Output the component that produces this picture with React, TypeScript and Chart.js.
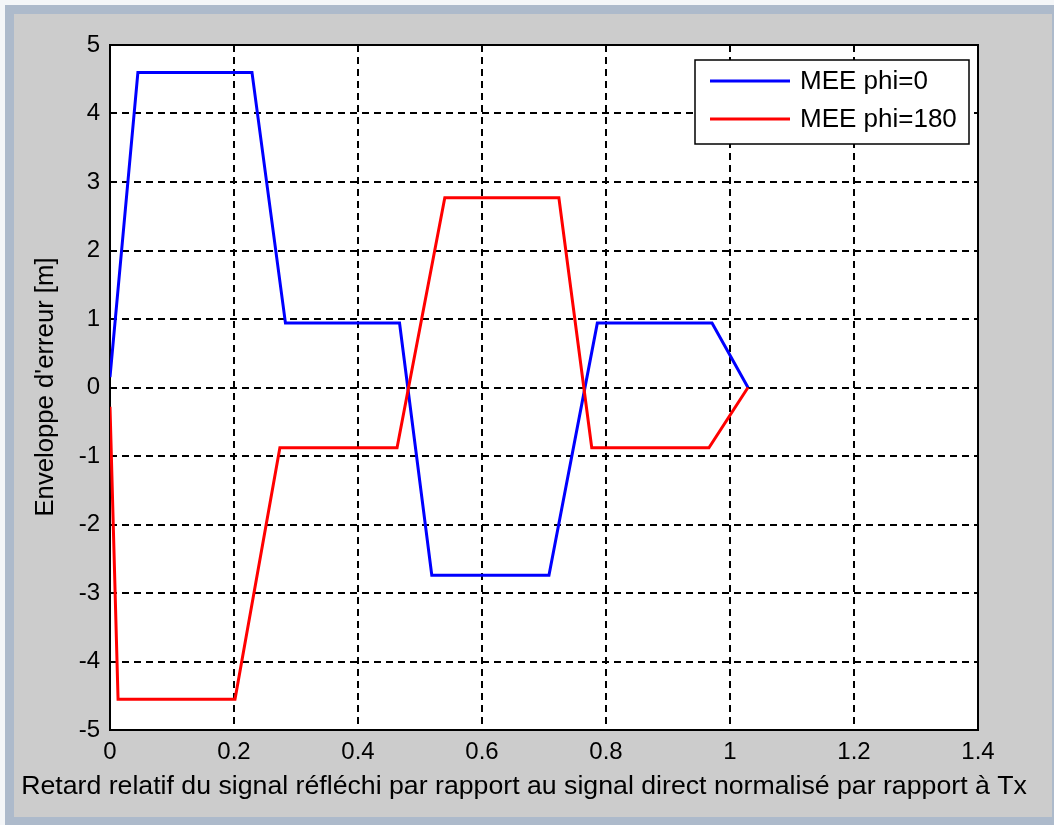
import React, { useEffect, useRef } from "react";
import { Chart, registerables } from "chart.js";

Chart.register(...registerables);

// Axis ticks
const xTicks = [0, 0.2, 0.4, 0.6, 0.8, 1, 1.2, 1.4];
const yTicks = [-5, -4, -3, -2, -1, 0, 1, 2, 3, 4, 5];

// Multipath error envelope, phi = 0
const phi0X = [0, 0.045, 0.229, 0.283, 0.467, 0.519, 0.708, 0.786, 0.971, 1.029];
const phi0Y = [0.15, 4.6, 4.6, 0.94, 0.94, -2.74, -2.74, 0.94, 0.94, 0];

// Multipath error envelope, phi = 180
const phi180X = [0, 0.013, 0.2016, 0.274, 0.463, 0.54, 0.724, 0.777, 0.966, 1.029];
const phi180Y = [-0.28, -4.55, -4.55, -0.88, -0.88, 2.77, 2.77, -0.88, -0.88, 0];

const seriesLabels = ["MEE phi=0", "MEE phi=180"];
const seriesColors = ["#0000ff", "#ff0000"];
const xTitle =
  "Retard relatif du signal réfléchi par rapport au signal direct normalisé par rapport à Tx";
const yTitle = "Enveloppe d'erreur [m]";

const W = 1054;
const H = 825;
const FONT = "'Liberation Sans', Arial, Helvetica, sans-serif";

const toPoints = (xs: number[], ys: number[]) => xs.map((x, i) => ({ x, y: ys[i] }));

// Window frame, grey figure panel and white axes background
const framePlugin = {
  id: "frame",
  beforeDraw(chart: any) {
    const { ctx, chartArea } = chart;
    ctx.save();
    ctx.fillStyle = "#f4f6f8";
    ctx.fillRect(0, 0, W, H);
    ctx.fillStyle = "#adbacb";
    ctx.fillRect(5, 5, W - 5, H - 5);
    ctx.fillStyle = "#cccccc";
    ctx.fillRect(14, 14, 1052 - 14, 817 - 14);
    ctx.fillStyle = "#ffffff";
    ctx.fillRect(chartArea.left, chartArea.top, chartArea.right - chartArea.left, chartArea.bottom - chartArea.top);
    ctx.restore();
  },
};

// Axes box drawn over the grid, under the curves
const boxPlugin = {
  id: "axesBox",
  beforeDatasetsDraw(chart: any) {
    const { ctx, chartArea } = chart;
    ctx.save();
    ctx.strokeStyle = "#000";
    ctx.lineWidth = 2;
    ctx.strokeRect(chartArea.left, chartArea.top, chartArea.right - chartArea.left, chartArea.bottom - chartArea.top);
    ctx.restore();
  },
};

// Legend box in the upper right corner and axis titles
const annotatePlugin = {
  id: "annotate",
  afterDraw(chart: any) {
    const { ctx } = chart;
    ctx.save();
    // legend
    const bx = 695, by = 60, bw = 274, bh = 84;
    ctx.fillStyle = "#fff";
    ctx.fillRect(bx, by, bw, bh);
    ctx.strokeStyle = "#000";
    ctx.lineWidth = 1.5;
    ctx.strokeRect(bx, by, bw, bh);
    const rows = [81, 119];
    seriesLabels.forEach((label, i) => {
      ctx.strokeStyle = seriesColors[i];
      ctx.lineWidth = 3;
      ctx.beginPath();
      ctx.moveTo(710, rows[i]);
      ctx.lineTo(790, rows[i]);
      ctx.stroke();
      ctx.fillStyle = "#000";
      ctx.font = `26px ${FONT}`;
      ctx.textAlign = "left";
      ctx.textBaseline = "middle";
      ctx.fillText(label, 800, rows[i] + 1);
    });
    // x title
    ctx.fillStyle = "#000";
    ctx.font = `26.7px ${FONT}`;
    ctx.textAlign = "center";
    ctx.textBaseline = "middle";
    ctx.fillText(xTitle, 524, 787);
    // y title
    ctx.font = `25.7px ${FONT}`;
    ctx.translate(46, 387);
    ctx.rotate(-Math.PI / 2);
    ctx.fillText(yTitle, 0, 0);
    ctx.restore();
  },
};

export default function App() {
  const canvasRef = useRef<HTMLCanvasElement | null>(null);

  useEffect(() => {
    document.body.style.margin = "0";
    const canvas = canvasRef.current;
    if (!canvas) return;

    const chart = new Chart(canvas, {
      type: "line",
      data: {
        datasets: [
          {
            label: seriesLabels[0],
            data: toPoints(phi0X, phi0Y),
            borderColor: seriesColors[0],
            borderWidth: 3,
            pointRadius: 0,
            tension: 0,
            fill: false,
            order: 1,
          },
          {
            label: seriesLabels[1],
            data: toPoints(phi180X, phi180Y),
            borderColor: seriesColors[1],
            borderWidth: 3,
            pointRadius: 0,
            tension: 0,
            fill: false,
            order: 0,
          },
        ],
      },
      options: {
        responsive: false,
        animation: false,
        devicePixelRatio: 1,
        layout: { padding: { left: 0, top: 45, right: 76, bottom: 0 } },
        plugins: {
          legend: { display: false },
          tooltip: { enabled: false },
          title: { display: false },
        },
        scales: {
          x: {
            type: "linear",
            min: 0,
            max: 1.4,
            afterBuildTicks: (scale: any) => {
              scale.ticks = xTicks.map((v) => ({ value: v }));
            },
            afterFit: (scale: any) => {
              scale.height = 95;
            },
            ticks: {
              autoSkip: false,
              maxRotation: 0,
              padding: 8,
              color: "#000",
              font: { family: FONT, size: 24 },
              callback: (v: any) => String(Math.round(Number(v) * 10) / 10),
            },
            grid: {
              color: "#000",
              lineWidth: 2,
              drawTicks: false,
            },
            border: { display: false, dash: [7, 5] },
          },
          y: {
            type: "linear",
            min: -5,
            max: 5,
            afterBuildTicks: (scale: any) => {
              scale.ticks = yTicks.map((v) => ({ value: v }));
            },
            afterFit: (scale: any) => {
              scale.width = 110;
            },
            ticks: {
              autoSkip: false,
              padding: 10,
              color: "#000",
              font: { family: FONT, size: 24 },
              callback: (v: any) => String(v),
            },
            grid: {
              color: "#000",
              lineWidth: 2,
              drawTicks: false,
            },
            border: { display: false, dash: [7, 5] },
          },
        },
      },
      plugins: [framePlugin, boxPlugin, annotatePlugin],
    });

    return () => chart.destroy();
  }, []);

  return (
    <canvas
      ref={canvasRef}
      width={W}
      height={H}
      style={{ display: "block", width: W, height: H }}
    />
  );
}
